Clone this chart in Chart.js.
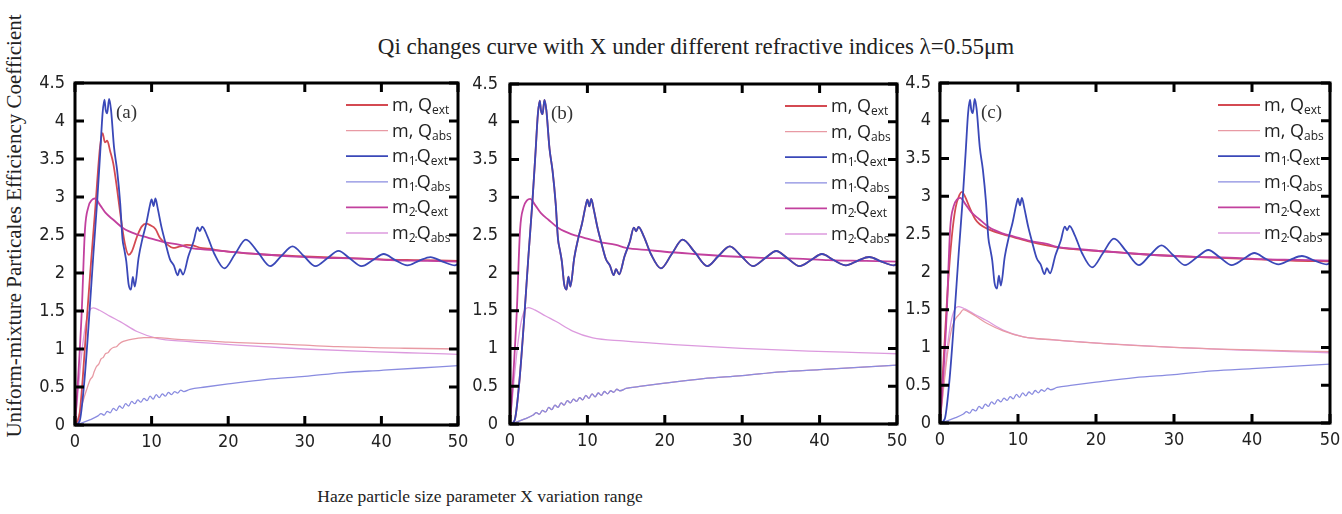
<!DOCTYPE html>
<html>
<head>
<meta charset="utf-8">
<script src="https://cdn.jsdelivr.net/npm/chart.js@4.4.0/dist/chart.umd.min.js"></script>
<style>
body { margin:0; background:#fff; width:1342px; height:514px; position:relative; overflow:hidden; }
canvas { position:absolute; }
.txt { position:absolute; white-space:nowrap; font-family:"Liberation Serif", serif; color:#222; transform:translate(-50%,-50%); }
#title { left:696px; top:47px; font-size:23px; }
#xtitle { left:480px; top:496px; font-size:17.5px; }
#ytitle { left:14px; top:226px; font-size:21px; transform:translate(-50%,-50%) rotate(-90deg); }
</style>
</head>
<body>
<div id="title" class="txt">Qi changes curve with X under different refractive indices λ=0.55μm</div>
<div id="xtitle" class="txt">Haze particle size parameter X variation range</div>
<div id="ytitle" class="txt">Uniform-mixture Particales Efficiency Coefficient</div>
<canvas id="ca" width="445" height="400" style="left:25px;top:60px"></canvas>
<canvas id="cb" width="445" height="400" style="left:465px;top:60px"></canvas>
<canvas id="cc" width="447" height="400" style="left:895px;top:60px"></canvas>
<script>
// axis ticks
var xTickValues = [0, 10, 20, 30, 40, 50];
var yTickValues = [0, 0.5, 1, 1.5, 2, 2.5, 3, 3.5, 4, 4.5];

// legend text: [main, sub, separator, main, sub]
var legendLabels = [
    ['m', '', ', ', 'Q', 'ext'],
    ['m', '', ', ', 'Q', 'abs'],
    ['m', '1', '·', 'Q', 'ext'],
    ['m', '1', '·', 'Q', 'abs'],
    ['m', '2', '·', 'Q', 'ext'],
    ['m', '2', '·', 'Q', 'abs']
];

// m1 (same in all three panels)
var m1ExtX = [0, 0.6, 1.2, 1.8, 2.4, 2.9, 3.3, 3.6, 3.85, 4.0, 4.2, 4.45, 4.7, 5.1, 5.5, 5.9, 6.2, 6.45, 6.7, 7.0, 7.3, 7.55, 7.8, 8.3, 8.8, 9.3, 9.8, 10.0, 10.25, 10.5, 10.8, 11.3, 11.8, 12.4, 12.9, 13.4, 13.7, 14.1, 14.8, 15.5, 16.0, 16.3, 16.6, 17.3, 18.2, 19.5, 20.9, 22.3, 23.9, 25.5, 26.9, 28.4, 29.9, 31.4, 32.9, 34.4, 35.9, 37.4, 38.9, 40.3, 41.8, 43.4, 44.9, 46.4, 48.0, 49.6, 50];
var m1ExtY = [0, 0.05, 0.55, 1.35, 2.25, 2.95, 3.6, 4.1, 4.28, 4.15, 4.1, 4.29, 4.15, 3.65, 3.35, 2.92, 2.45, 2.3, 2.15, 1.85, 1.78, 1.95, 1.82, 2.2, 2.45, 2.65, 2.9, 2.97, 2.88, 2.98, 2.85, 2.6, 2.4, 2.18, 2.1, 1.97, 2.05, 1.98, 2.22, 2.42, 2.6, 2.55, 2.61, 2.48, 2.25, 2.06, 2.25, 2.44, 2.27, 2.09, 2.22, 2.35, 2.22, 2.09, 2.19, 2.29, 2.19, 2.09, 2.17, 2.25, 2.17, 2.1, 2.16, 2.21, 2.15, 2.1, 2.12];
var m1AbsX = [0, 1, 2, 3, 3.4, 3.8, 4.2, 4.6, 5.0, 5.4, 5.8, 6.2, 6.6, 7.0, 7.4, 7.8, 8.2, 8.6, 9.0, 9.4, 9.8, 10.2, 10.6, 11.0, 11.4, 11.8, 12.2, 12.6, 13.0, 13.4, 13.8, 14.2, 15, 17, 20, 25, 30, 35, 40, 45, 50];
var m1AbsY = [0, 0.03, 0.07, 0.12, 0.15, 0.13, 0.18, 0.16, 0.22, 0.19, 0.25, 0.22, 0.28, 0.25, 0.31, 0.28, 0.33, 0.30, 0.35, 0.32, 0.38, 0.34, 0.40, 0.36, 0.41, 0.38, 0.43, 0.40, 0.44, 0.42, 0.46, 0.44, 0.47, 0.5, 0.54, 0.6, 0.64, 0.69, 0.72, 0.75, 0.78];

// m2 (same in all three panels)
var m2ExtX = [0, 0.4, 0.87, 1.3, 1.75, 2.2, 2.6, 3.3, 4.0, 5.0, 6.3, 8, 9.4, 11.5, 13.7, 15, 18, 20, 23.8, 28, 32.5, 37, 41.2, 46, 50];
var m2ExtY = [0, 0.6, 1.47, 2.57, 2.87, 2.96, 2.98, 2.89, 2.79, 2.7, 2.59, 2.51, 2.47, 2.41, 2.37, 2.33, 2.3, 2.28, 2.25, 2.22, 2.2, 2.19, 2.17, 2.16, 2.15];
var m2AbsX = [0, 0.5, 1.0, 1.5, 2.0, 2.4, 3.2, 4.6, 5.9, 8.1, 10.7, 14.6, 21.2, 29.9, 38.6, 45, 50];
var m2AbsY = [0, 0.55, 1.05, 1.38, 1.52, 1.54, 1.51, 1.43, 1.36, 1.23, 1.14, 1.1, 1.05, 1.0, 0.965, 0.945, 0.93];

// m, panel (a)
var mExtAX = [0, 0.6, 1.0, 1.6, 2.1, 2.6, 3.27, 3.6, 3.9, 4.2, 4.6, 5.0, 5.5, 5.9, 6.5, 7.0, 7.4, 8.1, 8.7, 9.3, 9.8, 10.5, 11.1, 12.0, 12.8, 13.7, 14.6, 15.5, 16.4, 17.5, 18.5, 20, 25, 30, 35, 40, 45, 50];
var mExtAY = [0, 0.15, 0.6, 1.47, 2.15, 2.79, 3.66, 3.84, 3.72, 3.74, 3.6, 3.44, 3.1, 2.79, 2.39, 2.24, 2.28, 2.48, 2.61, 2.65, 2.63, 2.58, 2.46, 2.38, 2.33, 2.35, 2.37, 2.36, 2.33, 2.32, 2.3, 2.28, 2.24, 2.22, 2.2, 2.18, 2.17, 2.16];
var mAbsAX = [0, 0.5, 1.0, 1.5, 2.0, 2.3, 2.5, 2.8, 3.1, 3.4, 3.7, 4.0, 4.3, 4.6, 5.0, 5.4, 5.8, 6.3, 7, 8.1, 9, 10.7, 13, 16.8, 20, 25.5, 30, 34.3, 40, 43, 50];
var mAbsAY = [0, 0.12, 0.3, 0.46, 0.6, 0.64, 0.7, 0.77, 0.8, 0.87, 0.89, 0.94, 0.95, 0.99, 1.02, 1.03, 1.07, 1.1, 1.12, 1.14, 1.15, 1.15, 1.13, 1.11, 1.09, 1.07, 1.05, 1.03, 1.015, 1.01, 1.0];

// m, panel (c)
var mExtCX = [0, 0.5, 1.0, 1.5, 2.0, 2.5, 2.8, 3.2, 3.8, 4.5, 5.1, 6.3, 8, 9.4, 11.5, 13.7, 16, 20, 25, 30, 35, 40, 45, 50];
var mExtCY = [0, 0.9, 1.8, 2.45, 2.85, 3.02, 3.06, 3.0, 2.85, 2.7, 2.63, 2.56, 2.5, 2.46, 2.4, 2.35, 2.31, 2.28, 2.24, 2.21, 2.19, 2.17, 2.15, 2.14];
var mAbsCX = [0, 0.5, 1.0, 1.5, 2.0, 2.5, 3.0, 3.5, 4.5, 6, 8.1, 10.7, 14.6, 21, 30, 38.6, 45, 50];
var mAbsCY = [0, 0.5, 0.95, 1.25, 1.38, 1.44, 1.5, 1.48, 1.42, 1.32, 1.22, 1.14, 1.1, 1.05, 1.0, 0.97, 0.955, 0.945];

var colors = ['#d44a52', '#e89aa4', '#3a48b8', '#8a8ce0', '#c2409e', '#dc9ade'];
var widths = [1.8, 1.3, 1.8, 1.3, 1.8, 1.3];
var orders = [3, 5, 1, 4, 2, 6];

function pts(xs, ys)
{
    var out = [];
    for (var i = 0; i < xs.length; i++) {
        out.push({x: xs[i], y: ys[i]});
    }
    return out;
}

var framePlugin = {
    id: 'frame',
    afterDatasetsDraw: function(chart) {
        var ctx = chart.ctx;
        var a = chart.chartArea;
        var xs = chart.scales.x, ys = chart.scales.y;
        var opt = chart.options.plugins.frame;
        ctx.save();
        ctx.strokeStyle = '#000';
        ctx.lineWidth = 3;
        ctx.strokeRect(a.left, a.top, a.right - a.left, a.bottom - a.top);
        ctx.beginPath();
        xTickValues.forEach(function(v) {
            var px = xs.getPixelForValue(v);
            ctx.moveTo(px, a.bottom); ctx.lineTo(px, a.bottom - 9);
            ctx.moveTo(px, a.top); ctx.lineTo(px, a.top + 9);
        });
        yTickValues.forEach(function(v) {
            var py = ys.getPixelForValue(v);
            ctx.moveTo(a.left, py); ctx.lineTo(a.left + 9, py);
            ctx.moveTo(a.right, py); ctx.lineTo(a.right - 9, py);
        });
        ctx.stroke();

        // panel letter
        ctx.fillStyle = '#333';
        ctx.font = '19px "Liberation Serif"';
        ctx.textBaseline = 'alphabetic';
        ctx.fillText(opt.letter, a.left + 41, a.top + 35);

        // legend
        var ds = chart.data.datasets;
        for (var i = 0; i < legendLabels.length; i++) {
            var lab = legendLabels[i];
            var y = a.top + 22 + i * 25.6;
            ctx.beginPath();
            ctx.strokeStyle = ds[i].borderColor;
            ctx.lineWidth = ds[i].borderWidth;
            ctx.moveTo(a.right - 112, y);
            ctx.lineTo(a.right - 70, y);
            ctx.stroke();
            var x = a.right - 66;
            ctx.fillStyle = '#222';
            ctx.font = '18px "Open Sans"';
            ctx.fillText(lab[0], x, y + 6);
            x += ctx.measureText(lab[0]).width;
            if (lab[1] != '') {
                ctx.font = '12px "Open Sans"';
                ctx.fillText(lab[1], x, y + 9);
                x += ctx.measureText(lab[1]).width;
            }
            if (lab[2] == '·') {
                ctx.font = '12px "Open Sans"';
                ctx.fillText(lab[2], x - 1, y + 9);
                x += ctx.measureText(lab[2]).width - 2;
            } else {
                ctx.font = '18px "Open Sans"';
                ctx.fillText(lab[2], x, y + 6);
                x += ctx.measureText(lab[2]).width;
            }
            ctx.font = '18px "Open Sans"';
            ctx.fillText(lab[3], x, y + 6);
            x += ctx.measureText(lab[3]).width;
            ctx.font = '12px "Open Sans"';
            ctx.fillText(lab[4], x, y + 9);
        }
        ctx.restore();
    }
};

function makePanel(id, letter, series, yw, pad, labelPad)
{
    var datasets = [];
    for (var i = 0; i < series.length; i++) {
        datasets.push({
            data: pts(series[i][0], series[i][1]),
            borderColor: colors[i],
            borderWidth: widths[i],
            pointRadius: 0,
            fill: false,
            cubicInterpolationMode: 'monotone',
            order: orders[i]
        });
    }
    var tickFont = {family: '"Liberation Sans Narrow", "DejaVu Sans Condensed", sans-serif', size: 18};
    new Chart(document.getElementById(id), {
        type: 'line',
        data: {datasets: datasets},
        options: {
            responsive: false,
            animation: false,
            events: [],
            layout: {padding: pad},
            plugins: {
                legend: {display: false},
                tooltip: {enabled: false},
                frame: {letter: letter}
            },
            scales: {
                x: {
                    type: 'linear', min: 0, max: 50,
                    grid: {display: false, drawTicks: false},
                    border: {display: false},
                    ticks: {stepSize: 10, padding: 7, color: '#222', font: tickFont, maxRotation: 0},
                    afterFit: function(s) { s.height = 25; s.paddingLeft = 0; s.paddingRight = 0; }
                },
                y: {
                    min: 0, max: 4.5,
                    grid: {display: false, drawTicks: false},
                    border: {display: false},
                    ticks: {stepSize: 0.5, padding: labelPad, color: '#222', font: tickFont,
                        callback: function(v) { return String(v); }},
                    afterFit: function(s) { s.width = yw; s.paddingTop = 0; s.paddingBottom = 0; }
                }
            }
        },
        plugins: [framePlugin]
    });
}

makePanel('ca', '(a)', [[mExtAX, mExtAY], [mAbsAX, mAbsAY], [m1ExtX, m1ExtY], [m1AbsX, m1AbsY], [m2ExtX, m2ExtY], [m2AbsX, m2AbsY]],
    50, {left: 0, top: 23, right: 12, bottom: 10}, 10);
makePanel('cb', '(b)', [[m1ExtX, m1ExtY], [m1AbsX, m1AbsY], [m1ExtX, m1ExtY], [m1AbsX, m1AbsY], [m2ExtX, m2ExtY], [m2AbsX, m2AbsY]],
    45, {left: 0, top: 24, right: 13, bottom: 11}, 12);
makePanel('cc', '(c)', [[mExtCX, mExtCY], [mAbsCX, mAbsCY], [m1ExtX, m1ExtY], [m1AbsX, m1AbsY], [m2ExtX, m2ExtY], [m2AbsX, m2AbsY]],
    45, {left: 0, top: 23, right: 12, bottom: 12}, 9);
</script>
</body>
</html>
